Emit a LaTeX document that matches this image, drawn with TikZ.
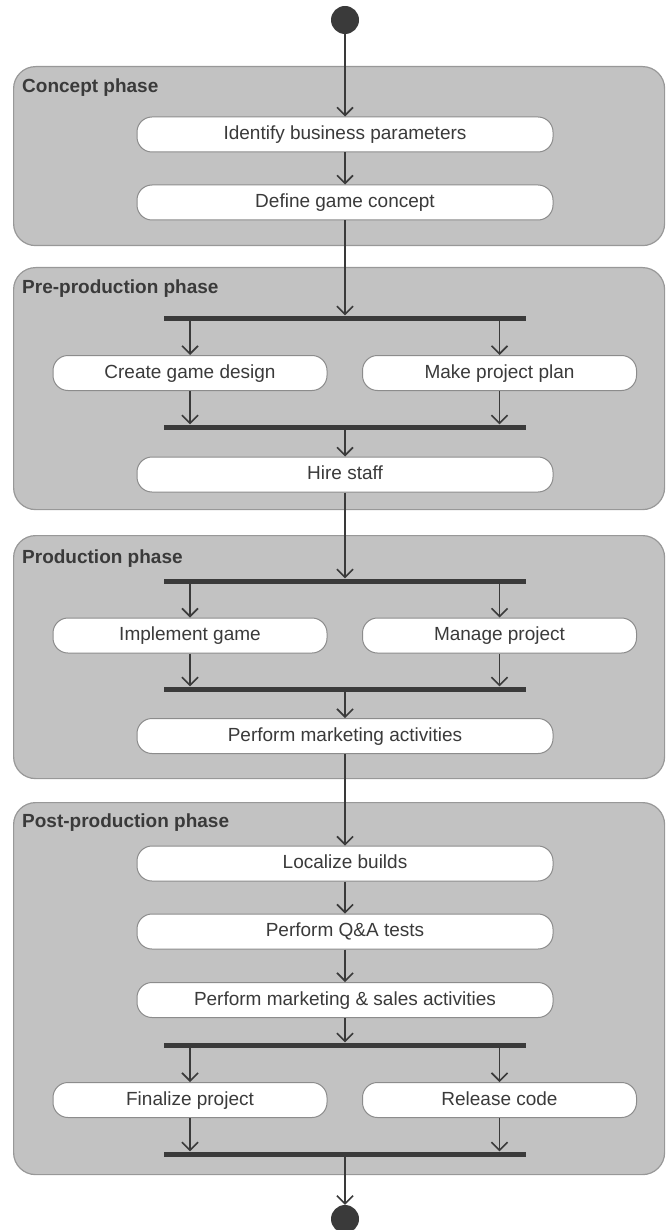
\documentclass[tikz,border=0pt]{standalone}
\usepackage{fontspec}
\setmainfont{Liberation Sans}
\usetikzlibrary{arrows.meta}
\definecolor{phasefill}{HTML}{C2C2C2}
\definecolor{phaseedge}{HTML}{989898}
\definecolor{ink}{HTML}{3A3A3A}
\definecolor{actedge}{HTML}{8C8C8C}
\begin{document}
\begin{tikzpicture}[x=1pt,y=-1pt,
  phase/.style={draw=phaseedge, fill=phasefill, line width=1.2pt, rounded corners=22pt,
    anchor=north west, inner sep=0pt, minimum width=651pt},
  phaselabel/.style={anchor=west, text=ink, font=\fontsize{19}{22}\selectfont\bfseries, inner sep=0pt},
  act/.style={draw=actedge, fill=white, line width=1pt, rounded corners=15pt, minimum height=35pt,
    text=ink, font=\fontsize{19}{22}\selectfont, inner sep=0pt, text height=13.5pt, text depth=3.5pt},
  wide/.style={act, minimum width=416pt},
  half/.style={act, minimum width=274pt},
  bar/.style={fill=ink, minimum width=362pt, minimum height=5pt, inner sep=0pt},
  dot/.style={circle, fill=ink, minimum size=28pt, inner sep=0pt},
  flow/.style={draw=ink, line width=1.6pt, -{Straight Barb[length=8pt,width=16pt]}}
]
\useasboundingbox (0,0) rectangle (665,1230);

% phase containers
\node[phase, minimum height=179pt] (concept) at (13,66) {};
\node[phase, minimum height=242pt] (preprod) at (13,267) {};
\node[phase, minimum height=243pt] (prod) at (13,535) {};
\node[phase, minimum height=372pt] (postprod) at (13,802) {};
\node[phaselabel] (conceptlbl) at (22,88) {Concept phase};
\node[phaselabel] (preprodlbl) at (22,289) {Pre-production phase};
\node[phaselabel] (prodlbl) at (22,559) {Production phase};
\node[phaselabel] (postprodlbl) at (22,823) {Post-production phase};

% initial and final states
\node[dot] (start) at (345,20) {};
\node[dot] (final) at (345,1219) {};

% concept phase
\node[wide] (identify) at (345,134.5) {Identify business parameters};
\node[wide] (define) at (345,202.5) {Define game concept};

% pre-production phase
\node[bar] (fork1) at (345,318) {};
\node[half] (design) at (190,373) {Create game design};
\node[half] (plan) at (499.5,373) {Make project plan};
\node[bar] (join1) at (345,427) {};
\node[wide] (hire) at (345,474.5) {Hire staff};

% production phase
\node[bar] (fork2) at (345,581) {};
\node[half] (implement) at (190,635.5) {Implement game};
\node[half] (manage) at (499.5,635.5) {Manage project};
\node[bar] (join2) at (345,689) {};
\node[wide] (market) at (345,736) {Perform marketing activities};

% post-production phase
\node[wide] (localize) at (345,863.5) {Localize builds};
\node[wide] (qa) at (345,931.5) {Perform Q\&A tests};
\node[wide] (sales) at (345,1000) {Perform marketing \& sales activities};
\node[bar] (fork3) at (345,1045) {};
\node[half] (finalize) at (190,1100) {Finalize project};
\node[half] (release) at (499.5,1100) {Release code};
\node[bar] (join3) at (345,1154) {};

% control flow
\draw[flow] (start) -- (identify);
\draw[flow] (identify) -- (define);
\draw[flow] (define) -- (fork1.north);
\draw[flow] (fork1.south -| design) -- (design);
\draw[flow] (fork1.south -| plan) -- (plan);
\draw[flow] (design) -- (design |- join1.north);
\draw[flow] (plan) -- (plan |- join1.north);
\draw[flow] (join1) -- (hire);
\draw[flow] (hire) -- (fork2.north);
\draw[flow] (fork2.south -| implement) -- (implement);
\draw[flow] (fork2.south -| manage) -- (manage);
\draw[flow] (implement) -- (implement |- join2.north);
\draw[flow] (manage) -- (manage |- join2.north);
\draw[flow] (join2) -- (market);
\draw[flow] (market) -- (localize);
\draw[flow] (localize) -- (qa);
\draw[flow] (qa) -- (sales);
\draw[flow] (sales) -- (fork3.north);
\draw[flow] (fork3.south -| finalize) -- (finalize);
\draw[flow] (fork3.south -| release) -- (release);
\draw[flow] (finalize) -- (finalize |- join3.north);
\draw[flow] (release) -- (release |- join3.north);
\draw[flow] (join3) -- (final);
\end{tikzpicture}
\end{document}
